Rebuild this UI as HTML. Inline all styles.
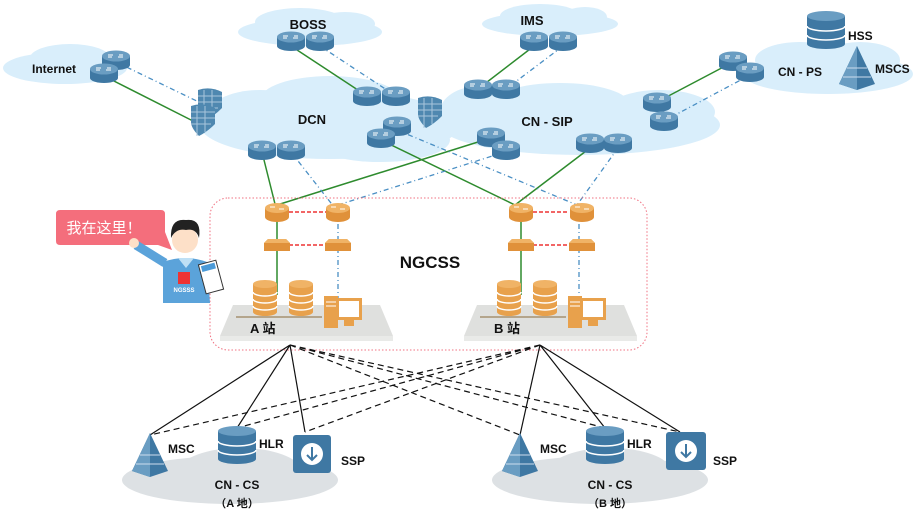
<!DOCTYPE html>
<html><head><meta charset="utf-8"><style>
body{margin:0;background:#fff;width:922px;height:516px;overflow:hidden}
svg{display:block}
text{font-family:"Liberation Sans","Noto Sans CJK SC",sans-serif;font-weight:bold;fill:#111}
</style></head><body>
<svg width="922" height="516" viewBox="0 0 922 516">
<defs>
<g id="r"><rect x="-14" y="-4" width="28" height="9" fill="#3f78a3"/><ellipse cx="0" cy="5" rx="14" ry="5" fill="#3f78a3"/><ellipse cx="0" cy="-4" rx="14" ry="5.5" fill="#6a9dc2"/><path d="M-8 -5h5M2 -3h5M-8 -3h4M3 -5h4" stroke="#fff" stroke-width="1"/></g>
<g id="o"><rect x="-12" y="-4" width="24" height="9" fill="#e0913a"/><ellipse cx="0" cy="5" rx="12" ry="5" fill="#e0913a"/><ellipse cx="0" cy="-4" rx="12" ry="5" fill="#f0b366"/><path d="M-7 -5h5M2 -3h5" stroke="#fff"/></g>
<g id="s"><path d="M-13 -4L-9 -8H9L13 -4V4H-13Z" fill="#e0913a"/><path d="M-13 -4L-9 -8H9L13 -4Z" fill="#f0b366"/></g>
<g id="d"><rect x="-12" y="-14" width="24" height="28" fill="#e8a14c"/><ellipse cx="0" cy="14" rx="12" ry="4" fill="#e8a14c"/><ellipse cx="0" cy="-14" rx="12" ry="4" fill="#f0b366"/><path d="M-12 -6a12 4 0 0 0 24 0M-12 1a12 4 0 0 0 24 0M-12 8a12 4 0 0 0 24 0" stroke="#fff" stroke-width="1.5" fill="none"/></g>
<g id="b"><rect x="-19" y="-14" width="38" height="28" fill="#3f78a3"/><ellipse cx="0" cy="14" rx="19" ry="5" fill="#3f78a3"/><ellipse cx="0" cy="-14" rx="19" ry="5" fill="#6a9dc2"/><path d="M-19 -4a19 5 0 0 0 38 0M-19 5a19 5 0 0 0 38 0" stroke="#fff" stroke-width="1.5" fill="none"/></g>
<g id="p"><path d="M0 -22L-18 16L0 22L18 16Z" fill="#3f78a3"/><path d="M0 -22L0 22L-18 16Z" fill="#6a9dc2"/><path d="M-10 0L10 0M-14 9L14 9" stroke="#cde" stroke-width="1"/></g>
<g id="f"><path d="M-12 -12Q0 -16 12 -10V6Q4 14 -4 18Q-12 10 -12 4Z" fill="#4f88b0"/><path d="M-12 -6H12M-12 0H12M-12 6H8M-6 -12V18M2 -12V14" stroke="#a8c6dc" stroke-width="1"/></g>
<g id="c"><rect x="-6" y="-16" width="14" height="32" fill="#e8a14c"/><rect x="6" y="-14" width="26" height="22" fill="#e8a14c"/><rect x="9" y="-11" width="20" height="16" fill="#fff"/><rect x="14" y="8" width="10" height="6" fill="#e8a14c"/><path d="M-4 -10h10M-4 -6h10" stroke="#fff"/></g>
</defs>
<!-- clouds -->
<g fill="#d9eefb">
<ellipse cx="65" cy="68" rx="62" ry="16"/><ellipse cx="70" cy="58" rx="40" ry="14"/>
<ellipse cx="310" cy="32" rx="72" ry="14"/><ellipse cx="300" cy="22" rx="45" ry="14"/><ellipse cx="345" cy="24" rx="30" ry="12"/>
<ellipse cx="550" cy="24" rx="68" ry="12"/><ellipse cx="540" cy="16" rx="40" ry="12"/><ellipse cx="585" cy="17" rx="22" ry="10"/>
<ellipse cx="828" cy="74" rx="85" ry="20"/><ellipse cx="800" cy="60" rx="45" ry="18"/><ellipse cx="860" cy="60" rx="40" ry="18"/>
<ellipse cx="330" cy="125" rx="130" ry="34"/><ellipse cx="260" cy="118" rx="55" ry="28"/><ellipse cx="330" cy="100" rx="70" ry="24"/><ellipse cx="380" cy="140" rx="70" ry="22"/>
<ellipse cx="580" cy="125" rx="140" ry="30"/><ellipse cx="480" cy="112" rx="40" ry="26"/><ellipse cx="560" cy="105" rx="70" ry="22"/><ellipse cx="660" cy="112" rx="55" ry="22"/>
</g>
<g fill="#dde1e4">
<ellipse cx="230" cy="480" rx="108" ry="24"/><ellipse cx="240" cy="470" rx="60" ry="22"/>
<ellipse cx="600" cy="480" rx="108" ry="24"/><ellipse cx="610" cy="470" rx="60" ry="22"/>
</g>
<!-- top links -->
<g stroke="#2e8b2e" stroke-width="1.5" fill="none">
<path d="M104 76L195 122M291 46L367 96M534 46L478 89M733 62L657 102M262 152L277 212M277 205L478 142M381 140L515 205M590 148L515 205"/>
<path d="M277 212V245V295M521 212V245V295"/>
</g>
<g stroke="#4a8fc4" stroke-width="1.3" fill="none" stroke-dasharray="5 3 1 3">
<path d="M116 62L205 105M320 46L396 96M563 46L506 89M750 75L664 121M291 152L338 212M338 205L505 152M397 130L577 205M618 148L577 205M338 212V300M579 212V300"/>
</g>
<g stroke="#e33" stroke-width="1.5" stroke-dasharray="4 2"><path d="M289 212H326M289 245H326M533 212H567M533 245H567"/></g>
<!-- routers -->
<use href="#r" x="116" y="60"/><use href="#r" x="104" y="73"/>
<use href="#r" x="291" y="41"/><use href="#r" x="320" y="41"/>
<use href="#r" x="534" y="41"/><use href="#r" x="563" y="41"/>
<use href="#r" x="367" y="96"/><use href="#r" x="396" y="96"/>
<use href="#r" x="397" y="126"/><use href="#r" x="381" y="138"/>
<use href="#r" x="262" y="150"/><use href="#r" x="291" y="150"/>
<use href="#r" x="478" y="89"/><use href="#r" x="506" y="89"/>
<use href="#r" x="491" y="137"/><use href="#r" x="506" y="150"/>
<use href="#r" x="590" y="143"/><use href="#r" x="618" y="143"/>
<use href="#r" x="657" y="102"/><use href="#r" x="664" y="121"/>
<use href="#r" x="733" y="61"/><use href="#r" x="750" y="72"/>
<use href="#f" x="210" y="102"/><use href="#f" x="203" y="118"/><use href="#f" x="430" y="110"/>
<use href="#b" x="826" y="30"/><use href="#p" x="857" y="68"/>
<text x="308" y="29" font-size="13" text-anchor="middle">BOSS</text>
<text x="32" y="73" font-size="12">Internet</text>
<text x="532" y="25" font-size="13" text-anchor="middle">IMS</text>
<text x="312" y="124" font-size="13" text-anchor="middle">DCN</text>
<text x="547" y="126" font-size="13" text-anchor="middle">CN - SIP</text>
<text x="778" y="76" font-size="12">CN - PS</text>
<text x="848" y="40" font-size="12">HSS</text>
<text x="875" y="73" font-size="12">MSCS</text>
<!-- NGCSS -->
<rect x="210" y="198" width="437" height="152" rx="18" fill="none" stroke="#f07080" stroke-dasharray="1.5 2"/>
<text x="430" y="268" font-size="17" text-anchor="middle">NGCSS</text>
<g id="st">
<path d="M233 305H380L393 336H220Z" fill="#dfe0de"/><rect x="220" y="336" width="173" height="5" fill="#e9eae8"/>
<path d="M236 317H322" stroke="#8a6a3a"/>
<use href="#o" x="277" y="212"/><use href="#o" x="338" y="212"/>
<use href="#s" x="277" y="247"/><use href="#s" x="338" y="247"/>
<use href="#d" x="265" y="298"/><use href="#d" x="301" y="298"/>
<use href="#c" x="330" y="312"/>
</g>
<use href="#st" x="244"/>
<text x="250" y="333" font-size="13">A 站</text>
<text x="494" y="333" font-size="13">B 站</text>
<!-- bottom fan -->
<g stroke="#111" stroke-width="1.2" fill="none">
<path d="M290 345L150 435M290 345L237 428M290 345L305 432M540 345L520 435M540 345L605 428M540 345L680 432"/>
</g>
<g stroke="#111" stroke-width="1.2" fill="none" stroke-dasharray="6 4">
<path d="M290 345L520 435M290 345L605 428M290 345L680 432M540 345L150 435M540 345L237 428M540 345L305 432"/>
</g>
<use href="#p" x="150" y="455"/><use href="#b" x="237" y="445"/>
<rect x="293" y="435" width="38" height="38" rx="3" fill="#3f78a3"/><circle cx="312" cy="454" r="11" fill="#fff"/><path d="M312 447V460M307 455L312 460L317 455" stroke="#3f78a3" stroke-width="2" fill="none"/>
<use href="#p" x="520" y="455"/><use href="#b" x="605" y="445"/>
<rect x="666" y="432" width="40" height="38" rx="3" fill="#3f78a3"/><circle cx="686" cy="451" r="11" fill="#fff"/><path d="M686 444V457M681 452L686 457L691 452" stroke="#3f78a3" stroke-width="2" fill="none"/>
<text x="168" y="453" font-size="12">MSC</text><text x="259" y="448" font-size="12">HLR</text><text x="341" y="465" font-size="12">SSP</text>
<text x="540" y="453" font-size="12">MSC</text><text x="627" y="448" font-size="12">HLR</text><text x="713" y="465" font-size="12">SSP</text>
<text x="237" y="489" font-size="12" text-anchor="middle">CN - CS</text><text x="237" y="507" font-size="11" text-anchor="middle">（A 地）</text>
<text x="610" y="489" font-size="12" text-anchor="middle">CN - CS</text><text x="610" y="507" font-size="11" text-anchor="middle">（B 地）</text>
<!-- person -->
<path d="M60 210H161Q165 210 165 214V232L172 250L158 245H60Q56 245 56 241V214Q56 210 60 210Z" fill="#f46e7c"/>
<text x="104" y="233" font-size="15" text-anchor="middle" style="fill:#fff;font-weight:normal">我在这里！</text>
<path d="M136 245L165 263" stroke="#5ba3da" stroke-width="9"/>
<circle cx="134" cy="243" r="5" fill="#fde0c8"/>
<path d="M163 262Q185 254 207 262L210 303H163Z" fill="#5ba3da"/>
<path d="M178 258L186 268L194 258Z" fill="#bfe0f5"/>
<circle cx="185" cy="240" r="13" fill="#fde0c8"/><path d="M171 238Q170 218 186 220Q202 218 199 238Q196 228 186 230Q176 228 171 238Z" fill="#222"/>
<rect x="178" y="272" width="12" height="12" fill="#e33"/>
<text x="184" y="292" font-size="6" text-anchor="middle" style="fill:#fff">NGSSS</text>
<rect x="202" y="262" width="18" height="30" fill="#fff" stroke="#333" transform="rotate(-15 211 277)"/>
<rect x="204" y="264" width="14" height="6" fill="#4a9ad8" transform="rotate(-15 211 277)"/>
</svg>
</body></html>
